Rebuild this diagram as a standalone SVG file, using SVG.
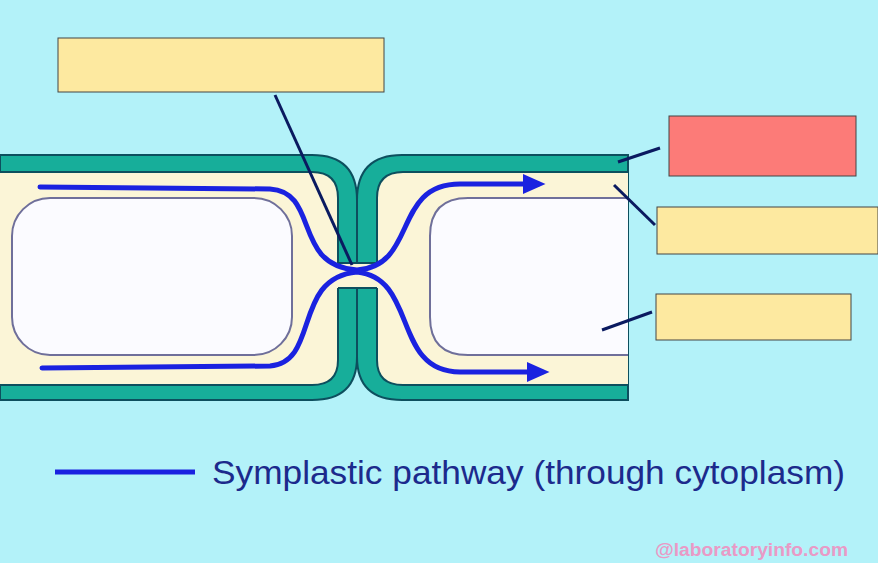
<svg xmlns="http://www.w3.org/2000/svg" width="878" height="563" viewBox="0 0 878 563">
<style>
.wall{fill:#17ae9a;stroke:#0d4f5e;stroke-width:2}
.cyto{fill:#fbf5d7;stroke:#0d4f5e;stroke-width:2}
.vac{fill:#fbfbff;stroke:#6f6f9a;stroke-width:2}
.flow{fill:none;stroke:#1a22e0;stroke-width:5;stroke-linecap:round}
.lbl{fill:#fde9a0;stroke:#444;stroke-width:1}
.lead{stroke:#0a1a60;stroke-width:3}
</style>
<defs><marker id="ah" markerWidth="6" markerHeight="6" refX="3" refY="3" orient="auto" markerUnits="strokeWidth"><path d="M0,1 L4.5,3 L0,5z" fill="#1a22e0"/></marker></defs>
<rect width="878" height="563" fill="#b3f2f9"/>
<g id="walls">
<path class="wall" d="M0,155 H312 Q357,155 357,200 V357 Q357,400 312,400 H0Z"/>
<path class="wall" d="M628,155 H402 Q357,155 357,200 V357 Q357,400 402,400 H628Z"/>
<line x1="357" y1="200" x2="357" y2="235" stroke="#0d4f5e" stroke-width="2"/>
<line x1="357" y1="320" x2="357" y2="357" stroke="#0d4f5e" stroke-width="2"/>
</g>
<g id="left-cell">
<path class="cyto" d="M-2,172 H312 Q338,172 338,198 V360 Q338,385 312,385 H-2Z"/>
<rect class="vac" x="12" y="198" width="280" height="157" rx="38"/>
</g>
<g id="right-cell">
<path class="cyto" d="M628,172 H403 Q377,172 377,198 V360 Q377,385 403,385 H628"/>
<path class="vac" d="M628,198 H468 Q430,198 430,236 V317 Q430,355 468,355 H628"/>
</g>
<g id="plasmodesma">
<rect x="336" y="263" width="43" height="25" fill="#fbf5d7"/>
<line x1="338" y1="263" x2="377" y2="263" stroke="#0d4f5e" stroke-width="2"/>
<line x1="338" y1="288" x2="377" y2="288" stroke="#0d4f5e" stroke-width="2"/>
</g>
<g id="connectors">
<path class="flow" marker-end="url(#ah)" d="M40,187 L270,189 C320,192 292,266 357,270 C418,266 392,184 460,184 L538,184"/>
<path class="flow" marker-end="url(#ah)" d="M42,368 L270,366 C320,362 292,278 357,272 C418,278 392,372 460,372 L542,372"/>
<line class="lead" x1="275" y1="95" x2="352" y2="265"/>
<line class="lead" x1="618" y1="162" x2="660" y2="148"/>
<line class="lead" x1="614" y1="185" x2="655" y2="225"/>
<line class="lead" x1="602" y1="330" x2="652" y2="312"/>
</g>
<g id="label-top"><rect class="lbl" x="58" y="38" width="326" height="54"/></g>
<g id="label-red"><rect x="669" y="116" width="187" height="60" fill="#fc7b78" stroke="#444"/></g>
<g id="label-mid"><rect class="lbl" x="657" y="207" width="221" height="47"/></g>
<g id="label-low"><rect class="lbl" x="656" y="294" width="195" height="46"/></g>
<g id="legend">
<line x1="55" y1="472" x2="195" y2="472" stroke="#1a22e0" stroke-width="5"/>
<text x="212" y="484" font-family="Liberation Sans, Arial, sans-serif" font-size="34" fill="#1c2a8c" textLength="633" lengthAdjust="spacingAndGlyphs">Symplastic pathway (through cytoplasm)</text>
</g>
<text x="655" y="556" font-family="Liberation Sans, Arial, sans-serif" font-size="18" font-weight="bold" fill="#e99ac6" textLength="193" lengthAdjust="spacingAndGlyphs">@laboratoryinfo.com</text>
</svg>
